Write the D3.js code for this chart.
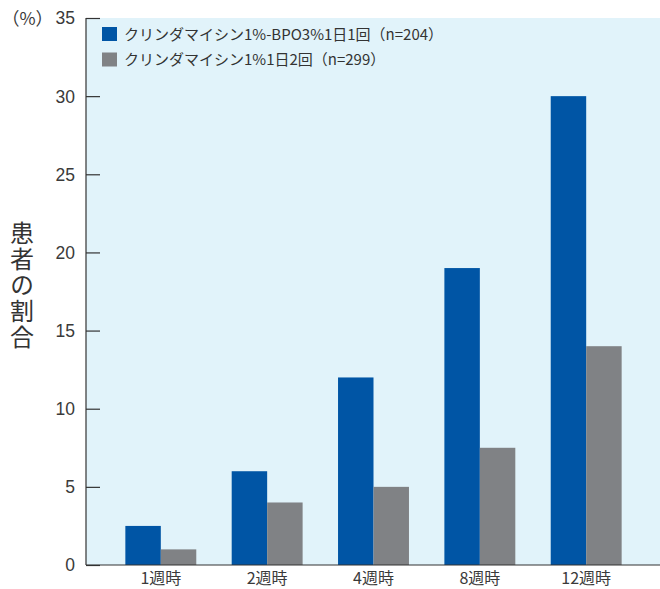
<!DOCTYPE html>
<html>
<head>
<meta charset="utf-8">
<script src="https://cdn.jsdelivr.net/npm/d3@7"></script>
<style>
  html, body { margin: 0; padding: 0; background: #fff; }
  svg { display: block; font-family: "Noto Sans CJK JP", "Noto Sans", sans-serif; }
</style>
</head>
<body>
<svg id="chart" width="660" height="589"></svg>
<script>
// Weeks of treatment
const categories = ["1週時", "2週時", "4週時", "8週時", "12週時"];
// Series names and values (% of patients)
const seriesNames = ["クリンダマイシン1%-BPO3%1日1回（n=204）", "クリンダマイシン1%1日2回（n=299）"];
const comboValues = [2.5, 6, 12, 19, 30];
const clindaValues = [1, 4, 5, 7.5, 14];
const yTicks = [0, 5, 10, 15, 20, 25, 30, 35];
const colors = ["#0055a5", "#808285"];

const svg = d3.select("#chart");
const plot = { left: 86, right: 661, top: 18, bottom: 565 };

const x = d3.scaleBand()
  .domain(categories)
  .range([plot.left, plot.right])
  .paddingInner(0.333)
  .paddingOuter(0.37);

const xSub = d3.scaleBand()
  .domain([0, 1])
  .range([0, x.bandwidth()]);

const y = d3.scaleLinear()
  .domain([0, 35])
  .range([plot.bottom, plot.top]);

// plot background
svg.append("rect")
  .attr("x", plot.left)
  .attr("y", plot.top)
  .attr("width", 660 - plot.left)
  .attr("height", plot.bottom - plot.top)
  .attr("fill", "#e1f3fa");

// bars
const series = [comboValues, clindaValues];
series.forEach((vals, si) => {
  svg.append("g").selectAll("rect")
    .data(vals)
    .join("rect")
    .attr("x", (d, i) => x(categories[i]) + xSub(si))
    .attr("y", d => y(d))
    .attr("width", xSub.bandwidth())
    .attr("height", d => y(0) - y(d))
    .attr("fill", colors[si]);
});

// y axis: ticks pointing into the plot, labels on the left
const yAxis = d3.axisRight(y)
  .tickValues(yTicks)
  .tickSize(14)
  .tickFormat(d3.format("d"));

const gy = svg.append("g")
  .attr("transform", `translate(${plot.left},0)`)
  .call(yAxis);
gy.select(".domain").remove();
gy.selectAll(".tick line").attr("stroke", "#333").attr("stroke-width", 1.2);
gy.selectAll(".tick text")
  .attr("x", -11)
  .attr("text-anchor", "end")
  .attr("fill", "#3a3a3a")
  .attr("font-size", 17.5)
  .attr("dy", "0.34em");

// axis lines
svg.append("line")
  .attr("x1", plot.left).attr("x2", plot.left)
  .attr("y1", plot.top).attr("y2", plot.bottom)
  .attr("stroke", "#333").attr("stroke-width", 1.2);
svg.append("line")
  .attr("x1", plot.left).attr("x2", 660)
  .attr("y1", plot.bottom).attr("y2", plot.bottom)
  .attr("stroke", "#333").attr("stroke-width", 1.2);

// x axis labels
const xAxis = d3.axisBottom(x).tickSize(0).tickPadding(8);
const gx = svg.append("g")
  .attr("transform", `translate(0,${plot.bottom})`)
  .call(xAxis);
gx.select(".domain").remove();
gx.selectAll(".tick text")
  .attr("fill", "#3a3a3a")
  .attr("font-size", 16)
  .attr("font-family", "\"Noto Sans CJK JP\", sans-serif");

// unit label
svg.append("text")
  .attr("x", 2)
  .attr("y", 25)
  .attr("fill", "#3a3a3a")
  .attr("font-size", 17.5)
  .text("（%）");

// vertical y-axis title
svg.append("text")
  .attr("x", 22)
  .attr("y", 221)
  .attr("fill", "#333")
  .attr("font-size", 24)
  .attr("writing-mode", "vertical-rl")
  .style("text-orientation", "upright")
  .attr("letter-spacing", 2)
  .text("患者の割合");

// legend
const legend = svg.append("g");
seriesNames.forEach((name, i) => {
  const ly = 27 + i * 25.5;
  legend.append("rect")
    .attr("x", 102).attr("y", ly)
    .attr("width", 15).attr("height", 14)
    .attr("fill", colors[i]);
  legend.append("text")
    .attr("x", 124).attr("y", ly + 12.5)
    .attr("fill", "#333")
    .attr("font-size", 15)
    .text(name);
});
</script>
</body>
</html>
